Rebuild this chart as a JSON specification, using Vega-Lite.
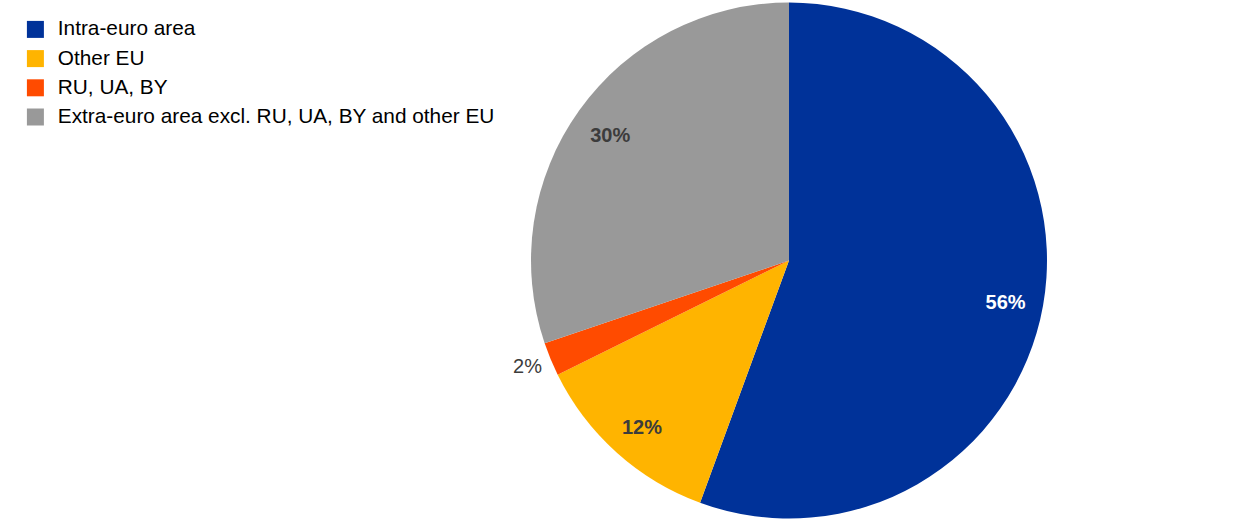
{
  "$schema": "https://vega.github.io/schema/vega-lite/v6.json",
  "width": 902,
  "height": 519,
  "autosize": {"type": "none"},
  "padding": {"left": 338, "top": 1, "right": 0, "bottom": 2},
  "background": "white",
  "config": {"view": {"stroke": null}, "font": "Liberation Sans"},
  "data": {
    "values": [
      {"category": "Intra-euro area", "share": 55.6, "rank": 1, "label": "56%"},
      {"category": "Other EU", "share": 12.1, "rank": 2, "label": "12%"},
      {"category": "RU, UA, BY", "share": 2.1, "rank": 3, "label": "2%"},
      {"category": "Extra-euro area excl. RU, UA, BY and other EU", "share": 30.2, "rank": 4, "label": "30%"}
    ]
  },
  "encoding": {
    "theta": {"field": "share", "type": "quantitative", "stack": true},
    "order": {"field": "rank", "type": "quantitative", "sort": "ascending"}
  },
  "layer": [
    {
      "mark": {"type": "arc", "outerRadius": 258},
      "encoding": {
        "color": {
          "field": "category",
          "type": "nominal",
          "scale": {
            "domain": ["Intra-euro area", "Other EU", "RU, UA, BY", "Extra-euro area excl. RU, UA, BY and other EU"],
            "range": ["#003299", "#FFB400", "#FF4B00", "#999999"]
          },
          "legend": {
            "title": null,
            "orient": "none",
            "legendX": -313,
            "legendY": 18,
            "padding": 0,
            "symbolType": "square",
            "symbolSize": 289,
            "symbolStrokeWidth": 0,
            "labelFontSize": 20.8,
            "labelFont": "Liberation Sans",
            "labelColor": "#000000",
            "labelOffset": 12,
            "rowPadding": 7.2,
            "labelLimit": 700
          }
        }
      }
    },
    {
      "mark": {
        "type": "text",
        "radius": {"expr": "datum.share < 5 ? 283 : 220"},
        "fontSize": 20,
        "font": "Liberation Sans",
        "fontWeight": {"expr": "datum.share < 5 ? 'normal' : 'bold'"},
        "fill": {"expr": "datum.share > 50 ? '#ffffff' : '#3c3c3c'"},
        "align": "center",
        "baseline": "middle",
        "dy": {"expr": "datum.share < 5 ? -2 : 4"}
      },
      "encoding": {
        "text": {"field": "label", "type": "nominal"}
      }
    }
  ]
}
